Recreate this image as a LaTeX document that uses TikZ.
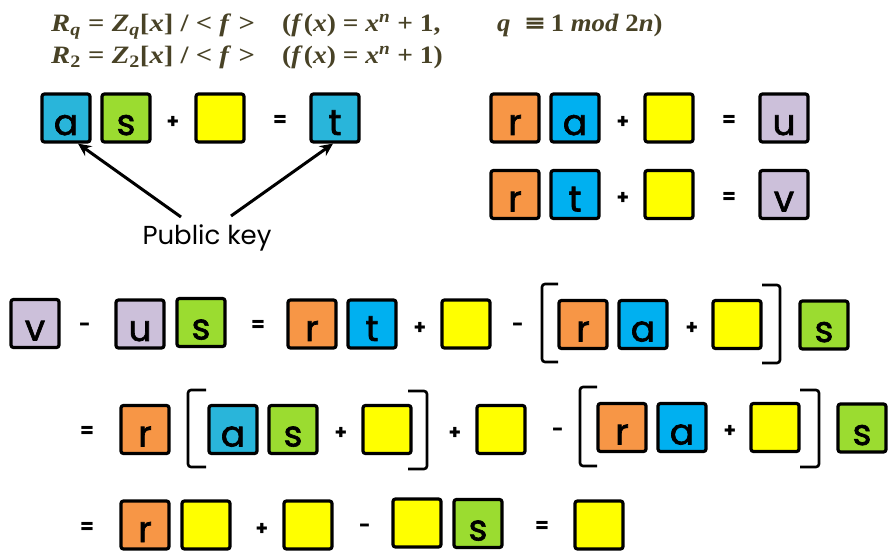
\documentclass[tikz,border=0pt]{standalone}
\usepackage[no-math]{fontspec}
\usepackage{graphicx}
\usetikzlibrary{arrows.meta}
\newfontfamily\advfont{Poppins}
\newfontfamily\boxfont{Poppins}[FakeBold=1.8]
\newfontfamily\fmf{Liberation Serif}
\newfontfamily\djv{DejaVu Serif}
\newcommand\vi[1]{\textit{#1}}
\newcommand\vsub[1]{\textsubscript{#1}}
\definecolor{cOr}{HTML}{F79646}
\definecolor{cBl}{HTML}{00B0F0}
\definecolor{cLb}{HTML}{29B5DA}
\definecolor{cGr}{HTML}{9BDC30}
\definecolor{cYe}{HTML}{FFFF00}
\definecolor{cLv}{HTML}{CCC0DA}
\definecolor{cFm}{HTML}{484226}
\begin{document}
\begin{tikzpicture}[x=1pt,y=-1pt,
  bx/.style={draw=black,line width=3.2pt,rounded corners=2.5pt,minimum width=48pt,minimum height=48pt,inner sep=0pt,text height=38pt,text depth=4pt,font=\boxfont\fontsize{36}{40}\selectfont},
  op/.style={inner sep=0pt,font=\advfont\bfseries\fontsize{20}{24}\selectfont},
  brk/.style={line width=2.6pt,rounded corners=3pt},
  fm/.style={anchor=base west,inner sep=0pt,text=cFm,font=\fmf\bfseries\fontsize{25}{29}\selectfont},
  arr/.style={line width=3pt,-{Stealth[length=13pt,width=12pt]}}]
\useasboundingbox (0,0) rectangle (889,553);
% formulas
\node[fm] (f1a) at (51,32) {\scalebox{1.15}[1]{\vi{R}\vsub{\vi{q}} = \vi{Z}\vsub{\vi{q}}[\vi{x}] / {<} \vi{f} {>}}};
\node[fm] (f1b) at (282,32) {\scalebox{1.1}[1]{(\vi{f}\kern1pt(\vi{x}) = \vi{x}\textsuperscript{\vi{n}} + 1,}};
\node[fm] (f1c) at (497,32) {\scalebox{1.07}[1]{\vi{q}\ \ {\djv\bfseries ≡}\,1 \vi{mod} 2\vi{n})}};
\node[fm] (f2a) at (51,64) {\scalebox{1.15}[1]{\vi{R}\vsub{2} = \vi{Z}\vsub{2}[\vi{x}] / {<} \vi{f} {>}}};
\node[fm] (f2b) at (282,64) {\scalebox{1.1}[1]{(\vi{f}\kern1pt(\vi{x}) = \vi{x}\textsuperscript{\vi{n}} + 1)}};
% row 1
\node[bx,fill=cLb] (a1) at (66,118) {a};
\node[bx,fill=cGr] (s1) at (126,118) {s};
\node[op] (p1) at (173,122) {+};
\node[bx,fill=cYe] (y1) at (220,118) {};
\node[op] (e1) at (280,121) {=};
\node[bx,fill=cLb] (t1) at (335,118) {t};
\node[inner sep=0pt,font=\advfont\fontsize{26}{30}\selectfont] (pk) at (207,238) {Public key};
\coordinate (pk1) at (181,217);
\coordinate (pk2) at (231,216);
\draw[arr] (pk1) -- ([xshift=12pt]a1.south);
\draw[arr] (pk2) -- ([xshift=-2pt]t1.south);
% right rows
\node[bx,fill=cOr] (r2) at (515,118) {r};
\node[bx,fill=cBl] (a2) at (575,118) {a};
\node[op] (p2) at (623,122) {+};
\node[bx,fill=cYe] (y2) at (669,118) {};
\node[op] (e2) at (729,121) {=};
\node[bx,fill=cLv] (u2) at (784,118) {u};
\node[bx,fill=cOr] (r3) at (515,194.5) {r};
\node[bx,fill=cBl] (t3) at (575,194.5) {t};
\node[op] (p3) at (623,198.5) {+};
\node[bx,fill=cYe] (y3) at (669,194.5) {};
\node[op] (e3) at (729,197.5) {=};
\node[bx,fill=cLv] (v3) at (784,194.5) {v};
% row 3
\node[bx,fill=cLv] (v4) at (35,323.5) {v};
\node[op] (m4) at (85,327) {-};
\node[bx,fill=cLv] (u4) at (140,324) {u};
\node[bx,fill=cGr] (s4) at (201,322.5) {s};
\node[op] (e4) at (258,326) {=};
\node[bx,fill=cOr] (r4) at (312,324) {r};
\node[bx,fill=cBl] (t4) at (372,324) {t};
\node[op] (p4) at (420,328) {+};
\node[bx,fill=cYe] (y4) at (466,324) {};
\node[op] (m4b) at (518,327) {-};
\draw[brk] (558,284) -- (542,284) -- (542,362) -- (558,362);
\node[bx,fill=cOr] (r4b) at (583,324.5) {r};
\node[bx,fill=cBl] (a4b) at (643,324.5) {a};
\node[op] (p4b) at (692,328.5) {+};
\node[bx,fill=cYe] (y4b) at (737,324.5) {};
\draw[brk] (762,285) -- (780,285) -- (780,363) -- (762,363);
\node[bx,fill=cGr] (s4b) at (824,325) {s};
% row 4
\node[op] (e5) at (87,432) {=};
\node[bx,fill=cOr] (r5) at (145,429.5) {r};
\draw[brk] (206,390) -- (188,390) -- (188,467) -- (206,467);
\node[bx,fill=cLb] (a5) at (233,429.5) {a};
\node[bx,fill=cGr] (s5) at (293,429.5) {s};
\node[op] (p5) at (341,433) {+};
\node[bx,fill=cYe] (y5) at (387,429.5) {};
\draw[brk] (408,391) -- (427,391) -- (427,469) -- (408,469);
\node[op] (p5b) at (455,433) {+};
\node[bx,fill=cYe] (y5b) at (501,429.5) {};
\node[op] (m5) at (558,432) {-};
\draw[brk] (597,387) -- (580,387) -- (580,466) -- (597,466);
\node[bx,fill=cOr] (r5b) at (622,427.5) {r};
\node[bx,fill=cBl] (a5b) at (682,427.5) {a};
\node[op] (p5c) at (730,431.5) {+};
\node[bx,fill=cYe] (y5c) at (775,427.5) {};
\draw[brk] (800,390) -- (819,390) -- (819,467) -- (800,467);
\node[bx,fill=cGr] (s5b) at (862,428) {s};
% row 5
\node[op] (e6) at (87,528) {=};
\node[bx,fill=cOr] (r6) at (145,525) {r};
\node[bx,fill=cYe] (y6) at (206,525) {};
\node[op] (p6) at (262,529) {+};
\node[bx,fill=cYe] (y6b) at (308,525) {};
\node[op] (m6) at (365,528) {-};
\node[bx,fill=cYe] (y6c) at (417,523) {};
\node[bx,fill=cGr] (s6) at (478,523.5) {s};
\node[op] (e6b) at (542,527) {=};
\node[bx,fill=cYe] (y6d) at (599,525) {};
\end{tikzpicture}
\end{document}
